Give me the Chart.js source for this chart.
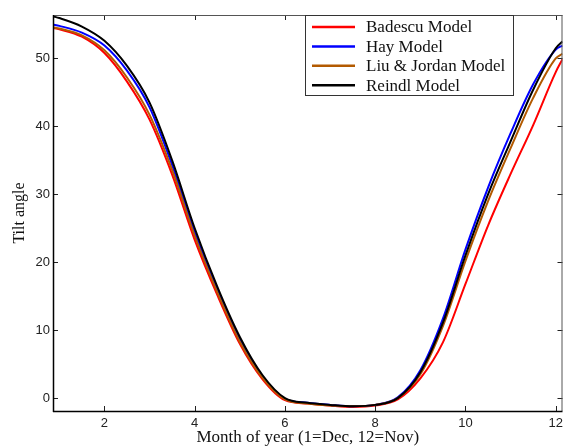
<!DOCTYPE html>
<html>
<head>
<meta charset="utf-8">
<title>Tilt angle by month</title>
<script src="https://cdn.jsdelivr.net/npm/chart.js@4.4.1/dist/chart.umd.min.js"></script>
<style>
  html, body { margin: 0; padding: 0; background: #fff; }
</style>
</head>
<body>
<canvas id="chart" width="568" height="446"></canvas>
<script>
// month positions (1=Dec, 12=Nov)
const months = [0.86, 1, 1.5, 2, 2.5, 3, 3.5, 4, 4.5, 5, 5.5, 6, 6.5, 7, 7.5, 8, 8.5, 9, 9.5, 10, 10.5, 11, 11.5, 12, 12.15];

// optimum tilt angle for each model
const badescu   = [54.5, 54.3, 53.2, 50.8, 46.6, 41.0, 32.9, 23.3, 15.2, 8.0, 2.8, -0.3, -0.8, -1.1, -1.3, -1.1, -0.2, 2.9, 8.2, 16.8, 25.4, 33.0, 40.2, 48.0, 49.9];
const hay       = [55.0, 54.8, 53.8, 51.9, 48.2, 42.8, 34.3, 24.4, 16.0, 8.7, 3.2, -0.1, -0.7, -1.0, -1.2, -1.0, 0.1, 4.1, 11.7, 21.9, 31.0, 39.0, 46.2, 51.3, 51.9];
const liuJordan = [54.6, 54.4, 53.4, 51.2, 47.2, 41.7, 33.6, 23.9, 15.6, 8.3, 3.0, -0.2, -0.8, -1.1, -1.2, -1.0, 0.0, 3.5, 10.6, 20.2, 29.0, 36.8, 44.2, 50.0, 50.7];
const reindl    = [56.2, 55.95, 54.7, 52.6, 48.9, 43.5, 35.0, 25.0, 16.4, 9.0, 3.4, 0.0, -0.7, -1.0, -1.2, -1.0, 0.0, 3.8, 11.1, 21.0, 30.0, 37.8, 45.4, 51.5, 52.5];

const xTicks = [2, 4, 6, 8, 10, 12];
const yTicks = [0, 10, 20, 30, 40, 50];

const seriesNames = ['Badescu Model', 'Hay Model', 'Liu & Jordan Model', 'Reindl Model'];
const seriesValues = [badescu, hay, liuJordan, reindl];
const seriesColors = ['#ff0000', '#0000ff', '#b35a00', '#000000'];
const seriesOrder = [3, 2, 1, 0]; // black on top

const toPoints = vals => months.map((m, i) => ({ x: m, y: vals[i] }));

// draws the box, inward ticks and the legend the way the figure has them
const frame = {
    id: 'frame',
    afterDatasetsDraw(chart) {
        const { ctx, chartArea: a, scales: { x, y } } = chart;
        ctx.save();
        const line = (x1, y1, x2, y2) => {
            ctx.beginPath();
            ctx.moveTo(x1, y1);
            ctx.lineTo(x2, y2);
            ctx.stroke();
        };

        ctx.strokeStyle = '#222';
        ctx.lineWidth = 1;
        xTicks.forEach(v => {
            const px = Math.round(x.getPixelForValue(v)) + 0.5;
            line(px, a.bottom, px, a.bottom - 5);
            line(px, a.top, px, a.top + 5);
        });
        yTicks.forEach(v => {
            const py = Math.round(y.getPixelForValue(v)) + 0.5;
            line(a.left, py, a.left + 5, py);
            line(a.right, py, a.right - 5, py);
        });

        // top and right edges are lighter
        ctx.strokeStyle = '#555';
        line(a.left, a.top + 0.5, a.right, a.top + 0.5);
        line(a.right - 0.5, a.top, a.right - 0.5, a.bottom);
        ctx.strokeStyle = '#000';
        ctx.lineWidth = 1.5;
        line(a.left + 0.5, a.top, a.left + 0.5, a.bottom + 1);
        line(a.left, a.bottom + 0.5, a.right, a.bottom + 0.5);

        // legend
        const lx = 305, ly = 15, lw = 208, lh = 80;
        ctx.fillStyle = '#fff';
        ctx.fillRect(lx, ly, lw, lh);
        ctx.strokeStyle = '#333';
        ctx.lineWidth = 1;
        ctx.strokeRect(lx + 0.5, ly + 0.5, lw, lh);
        ctx.font = '17px "Liberation Serif", "Times New Roman", serif';
        ctx.textBaseline = 'middle';
        ctx.fillStyle = '#111';
        chart.data.datasets.forEach((ds, i) => {
            const ry = 27 + i * 19.4;
            ctx.strokeStyle = ds.borderColor;
            ctx.lineWidth = 2.5;
            line(312, ry, 355, ry);
            ctx.fillText(ds.label, 366, ry + 1);
        });
        ctx.restore();
    }
};

new Chart(document.getElementById('chart'), {
    type: 'line',
    data: {
        datasets: seriesNames.map((name, i) => ({
            label: name,
            data: toPoints(seriesValues[i]),
            borderColor: seriesColors[i],
            backgroundColor: seriesColors[i],
            borderWidth: 2,
            pointRadius: 0,
            fill: false,
            cubicInterpolationMode: 'monotone',
            order: seriesOrder[i]
        }))
    },
    options: {
        responsive: false,
        animation: false,
        layout: { padding: { top: 15, right: 2, left: 0, bottom: 0 } },
        plugins: {
            legend: { display: false },
            tooltip: { enabled: false }
        },
        scales: {
            x: {
                type: 'linear',
                min: 0.86,
                max: 12.15,
                grid: { display: false, drawTicks: false },
                border: { display: false },
                afterBuildTicks: s => { s.ticks = xTicks.map(v => ({ value: v })); },
                afterFit: s => { s.height = 35; },
                ticks: {
                    autoSkip: false,
                    maxRotation: 0,
                    padding: 5,
                    color: '#222',
                    font: { family: '"Liberation Sans", Arial, sans-serif', size: 13 }
                },
                title: {
                    display: true,
                    text: 'Month of year (1=Dec, 12=Nov)',
                    color: '#111',
                    padding: { top: 0, bottom: -2 },
                    font: { family: '"Liberation Serif", "Times New Roman", serif', size: 17 }
                }
            },
            y: {
                min: -1.9,
                max: 56.4,
                grid: { display: false, drawTicks: false },
                border: { display: false },
                afterBuildTicks: s => { s.ticks = yTicks.map(v => ({ value: v })); },
                afterFit: s => { s.width = 53; },
                ticks: {
                    autoSkip: false,
                    padding: 3,
                    color: '#222',
                    font: { family: '"Liberation Sans", Arial, sans-serif', size: 13 }
                },
                title: {
                    display: true,
                    text: 'Tilt angle',
                    color: '#111',
                    padding: { top: 10, bottom: 0 },
                    font: { family: '"Liberation Serif", "Times New Roman", serif', size: 16 }
                }
            }
        }
    },
    plugins: [frame]
});
</script>
</body>
</html>
